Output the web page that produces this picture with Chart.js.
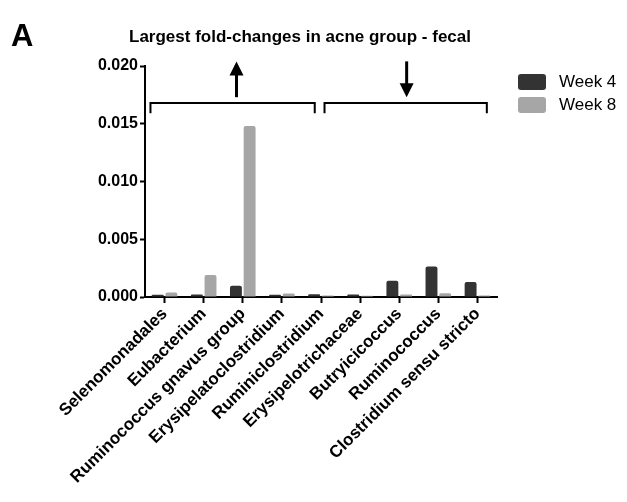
<!DOCTYPE html>
<html>
<head>
<meta charset="utf-8">
<script src="https://cdn.jsdelivr.net/npm/chart.js@4"></script>
<style>
  html, body { margin: 0; padding: 0; background: #fff; }
  #wrap { width: 627px; height: 502px; position: relative; }
</style>
</head>
<body>
<div id="wrap"><canvas id="foldChart" width="627" height="502"></canvas></div>
<script>
// taxa shown on the x axis
const taxa = [
  "Selenomonadales", "Eubacterium", "Ruminococcus gnavus group",
  "Erysipelatoclostridium", "Ruminiclostridium", "Erysipelotrichaceae",
  "Butryicicoccus", "Ruminococcus", "Clostridium sensu stricto"
];
const week4 = [0.0002, 0.00022, 0.00098, 0.0002, 0.00024, 0.00022, 0.0014, 0.00265, 0.0013];
const week8 = [0.00038, 0.0019, 0.0148, 0.0003, 0.00012, 0.0001, 0.00022, 0.00032, 0.00012];
const yTicks = [0, 0.005, 0.01, 0.015, 0.02];

// brackets above the groups (category index range) + arrow direction
const groups = [
  { from: -0.36, to: 3.84, arrowAt: 1.84, dir: "up" },
  { from: 4.09, to: 8.24, arrowAt: 6.19, dir: "down" }
];

const DARK = "#333333";
const LIGHT = "#a6a6a6";
const FONT = "'Liberation Sans', Arial, sans-serif";

// draws panel letter, title, legend, brackets and arrows
const decorPlugin = {
  id: "decor",
  afterDraw(chart) {
    const ctx = chart.ctx;
    const x = chart.scales.x, y = chart.scales.y;
    ctx.save();
    ctx.fillStyle = "#000";
    ctx.textBaseline = "alphabetic";
    ctx.font = "bold 31px " + FONT;
    ctx.textAlign = "left";
    ctx.fillText("A", 11, 46);

    ctx.font = "bold 17px " + FONT;
    ctx.textAlign = "center";
    ctx.fillText("Largest fold-changes in acne group - fecal", 300, 42);

    // legend
    const items = [["Week 4", DARK], ["Week 8", LIGHT]];
    items.forEach((it, i) => {
      const ty = 74 + i * 23;
      ctx.fillStyle = it[1];
      ctx.beginPath();
      ctx.roundRect(518, ty, 28, 16, 3);
      ctx.fill();
      ctx.fillStyle = "#000";
      ctx.font = "17px " + FONT;
      ctx.textAlign = "left";
      ctx.textBaseline = "middle";
      ctx.fillText(it[0], 559, ty + 8);
    });

    // brackets + arrows
    ctx.strokeStyle = "#000";
    ctx.fillStyle = "#000";
    const by = y.getPixelForValue(0.0168);
    const bEnd = y.getPixelForValue(0.0159);
    const aTop = y.getPixelForValue(0.0204);
    const aBot = y.getPixelForValue(0.0173);
    groups.forEach(g => {
      const x1 = x.getPixelForValue(g.from);
      const x2 = x.getPixelForValue(g.to);
      ctx.lineWidth = 2;
      ctx.beginPath();
      ctx.moveTo(x1, bEnd);
      ctx.lineTo(x1, by);
      ctx.lineTo(x2, by);
      ctx.lineTo(x2, bEnd);
      ctx.stroke();

      const ax = x.getPixelForValue(g.arrowAt);
      ctx.lineWidth = 3;
      ctx.beginPath();
      if (g.dir === "up") {
        ctx.moveTo(ax, aBot);
        ctx.lineTo(ax, aTop + 10);
      } else {
        ctx.moveTo(ax, aTop);
        ctx.lineTo(ax, aBot - 10);
      }
      ctx.stroke();
      ctx.beginPath();
      if (g.dir === "up") {
        ctx.moveTo(ax, aTop);
        ctx.lineTo(ax - 7, aTop + 14);
        ctx.lineTo(ax + 7, aTop + 14);
      } else {
        ctx.moveTo(ax, aBot);
        ctx.lineTo(ax - 7, aBot - 14);
        ctx.lineTo(ax + 7, aBot - 14);
      }
      ctx.closePath();
      ctx.fill();
    });
    ctx.restore();
  }
};

new Chart(document.getElementById("foldChart"), {
  type: "bar",
  data: {
    labels: taxa,
    datasets: [
      { label: "Week 4", data: week4, backgroundColor: DARK,
        borderRadius: { topLeft: 2, topRight: 2 }, borderSkipped: "bottom" },
      { label: "Week 8", data: week8, backgroundColor: LIGHT,
        borderRadius: { topLeft: 2, topRight: 2 }, borderSkipped: "bottom" }
    ]
  },
  options: {
    responsive: false,
    animation: false,
    devicePixelRatio: 1,
    layout: { padding: { left: 0, right: 130, top: 66, bottom: 0 } },
    plugins: {
      legend: { display: false },
      title: { display: false },
      tooltip: { enabled: false }
    },
    datasets: {
      bar: { categoryPercentage: 0.7, barPercentage: 0.87 }
    },
    scales: {
      x: {
        offset: true,
        afterFit(scale) { scale.height = 205; },
        grid: { offset: false, drawOnChartArea: false, tickLength: 6, color: "#000", tickWidth: 2 },
        border: { color: "#000", width: 2 },
        ticks: {
          color: "#000",
          font: { family: FONT, size: 17, weight: "bold" },
          minRotation: 45,
          maxRotation: 45,
          autoSkip: false,
          padding: 1
        }
      },
      y: {
        min: 0,
        max: 0.02,
        afterFit(scale) { scale.width = 145; },
        afterBuildTicks(scale) { scale.ticks = yTicks.map(v => ({ value: v })); },
        grid: { drawOnChartArea: false, tickLength: 5, color: "#000", tickWidth: 2 },
        border: { color: "#000", width: 2 },
        ticks: {
          color: "#000",
          font: { family: FONT, size: 16, weight: "bold" },
          padding: 2,
          callback: v => v.toFixed(3)
        }
      }
    }
  },
  plugins: [decorPlugin]
});
</script>
</body>
</html>
